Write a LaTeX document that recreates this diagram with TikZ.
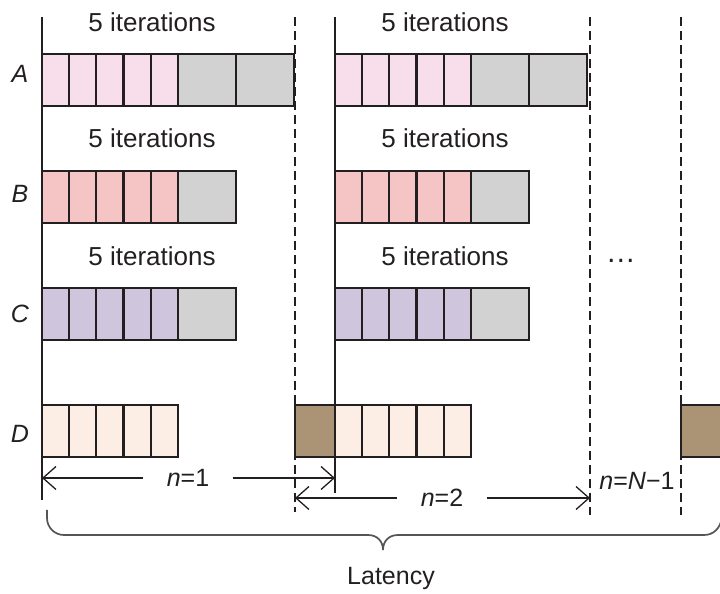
\documentclass[tikz,border=0pt]{standalone}
\usepackage{fontspec}
\setmainfont{Liberation Sans}
\usetikzlibrary{arrows.meta}
\definecolor{ink}{HTML}{231F20}
\definecolor{rowA}{HTML}{F8DEEA}
\definecolor{rowB}{HTML}{F5C4C4}
\definecolor{rowC}{HTML}{CFC6DE}
\definecolor{rowD}{HTML}{FDEEE5}
\definecolor{stage}{HTML}{D2D2D2}
\definecolor{load}{HTML}{AB9476}
\definecolor{bracegray}{HTML}{555555}
\begin{document}
\begin{tikzpicture}[x=0.5pt, y=-0.5pt,
	cell/.style={draw=ink, line width=1.1pt},
	sepline/.style={draw=ink, line width=0.75pt},
	loopline/.style={sepline, line width=0.9pt, dash pattern=on 4.5pt off 2.5pt},
	barb/.tip={Straight Barb[length=6.5pt, width=11.5pt]},
	dim/.style={draw=ink, line width=0.65pt},
	lbl/.style={font=\fontsize{13}{15}\selectfont, text=ink, anchor=base},
	rowname/.style={font=\fontsize{12.5}{15}\selectfont\itshape, text=ink, anchor=base}]

	\useasboundingbox (0,0) rectangle (720,594);

	% Define sizes
	\def\cw{27.2}  % one iteration
	\def\gw{58}    % gray stage
	\def\bh{52}    % row height

	% Draw boundaries of the loops
	\draw[sepline] (42,17) -- (42,500);
	\draw[sepline] (335,17) -- (335,493);
	\foreach \xd/\yd in {295/512, 590/515, 681/515}
		\draw[loopline] (\xd,17) -- (\xd,\yd);

	% Draw rows of iterations
	\foreach \r/\yt/\col/\ng in {A/54/rowA/2, B/171/rowB/1, C/288/rowC/1, D/405/rowD/0} {
		\foreach \xs in {42,335} {
			\foreach \i in {0,...,4}
				\draw[cell, fill=\col] ({\xs+\i*\cw},\yt) rectangle ++(\cw,\bh);
			\ifnum\ng>0
				\foreach \j in {1,...,\ng}
					\draw[cell, fill=stage] ({\xs+5*\cw+(\j-1)*\gw},\yt) rectangle ++(\gw,\bh);
			\fi
		}
	}

	% Brown blocks of D
	\draw[cell, fill=load] (295,405) rectangle ++(40,\bh);
	\draw[cell, fill=load] (681,405) rectangle ++(42,\bh);

	% Row names
	\foreach \r/\yb in {A/83, B/203, C/322, D/443}
		\node[rowname] (name\r) at (20,\yb) {\r};

	% Iteration labels
	\foreach \yb [count=\k] in {32,148,265} {
		\node[lbl] (itL\k) at (152,\yb) {5 iterations};
		\node[lbl] (itR\k) at (445,\yb) {5 iterations};
	}
	\node[lbl, font=\fontsize{15}{17}\selectfont] (dots) at (621,263) {\ldots};

	% Loop lengths
	\coordinate (n1s) at (42,478);
	\coordinate (n1e) at (335,478);
	\coordinate (n2s) at (295,498);
	\coordinate (n2e) at (590,498);
	\node[font=\fontsize{12.5}{15}\selectfont, text=ink, inner xsep=11.5pt] (n1) at (188,478) {\textit{n}=1};
	\node[font=\fontsize{12.5}{15}\selectfont, text=ink, inner xsep=11.5pt] (n2) at (442,498) {\textit{n}=2};
	\draw[dim, barb-] (n1s) -- (n1.west);
	\draw[dim, -barb] (n1.east) -- (n1e);
	\draw[dim, barb-] (n2s) -- (n2.west);
	\draw[dim, -barb] (n2.east) -- (n2e);
	\node[lbl, font=\fontsize{12.5}{15}\selectfont] (nN) at (637,490) {\textit{n}=\textit{N}−1};

	% Latency brace
	\draw[bracegray, line width=0.85pt] (47,510) -- (47,518) .. controls (47,527.4) and (54.6,535) .. (64,535)
		-- (368,535) .. controls (377,535) and (383,541) .. (383,550)
		.. controls (383,541) and (389,535) .. (398,535)
		-- (704,535) .. controls (713,535) and (720,529) .. (722,518);
	\node[lbl, font=\fontsize{12.5}{15}\selectfont] (lat) at (391,585) {Latency};
\end{tikzpicture}
\end{document}
